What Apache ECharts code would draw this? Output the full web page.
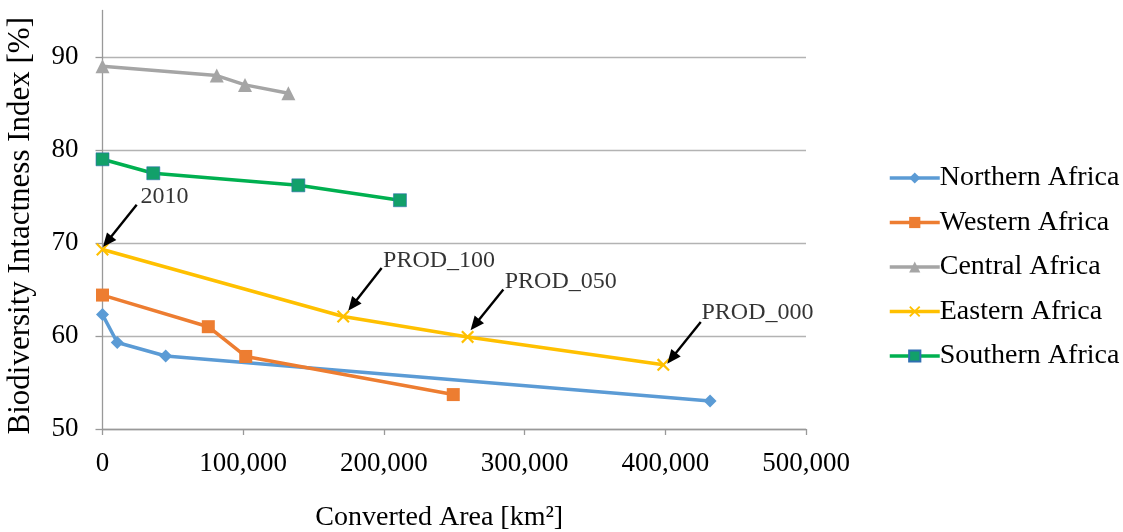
<!DOCTYPE html>
<html>
<head>
<meta charset="utf-8">
<script src="https://cdn.jsdelivr.net/npm/echarts@6/dist/echarts.min.js"></script>
<style>
html,body{margin:0;padding:0;background:#fff;}
#chart{width:1123px;height:532px;}
</style>
</head>
<body>
<div id="chart"></div>
<script>
// ---- data ----
const seriesNames = ['Northern Africa', 'Western Africa', 'Central Africa', 'Eastern Africa', 'Southern Africa'];
const northX = [0, 10500, 44900, 431800];
const northY = [62.3, 59.3, 57.85, 53.0];
const westX = [0, 75200, 101800, 249300];
const westY = [64.4, 61.0, 57.8, 53.7];
const centralX = [0, 81200, 101300, 132100];
const centralY = [89.0, 88.0, 87.0, 86.1];
const eastX = [0, 171100, 259500, 398600];
const eastY = [69.3, 62.1, 59.9, 56.9];
const southX = [0, 36100, 139200, 211400];
const southY = [79.0, 77.5, 76.2, 74.6];

const annoLabels = ['2010', 'PROD_100', 'PROD_050', 'PROD_000'];
const annoTextPos = [[27000, 75.0], [199400, 68.1], [285900, 65.8], [425700, 62.5]];
const annoTail = [[24300, 74.1], [198400, 67.3], [284900, 65.0], [425200, 61.5]];
const annoTip = [[3400, 70.15], [177700, 63.3], [264700, 61.2], [404500, 57.6]];

const xTicks = [0, 100000, 200000, 300000, 400000, 500000];
const yTicks = [50, 60, 70, 80, 90];

// ---- chart ----
const FONT = 'Liberation Serif';
const colors = ['#5B9BD5', '#ED7D31', '#A5A5A5', '#FFC000', '#00B050'];
const xSymbol = 'path://M0,1.2L1.2,0L5,3.8L8.8,0L10,1.2L6.2,5L10,8.8L8.8,10L5,6.2L1.2,10L0,8.8L3.8,5Z';

function zip(xs, ys) { return xs.map((x, i) => [x, ys[i]]); }

function lineSeries(idx, xs, ys, symbol, size, extra) {
  return Object.assign({
    name: seriesNames[idx],
    type: 'line',
    data: zip(xs, ys),
    symbol: symbol,
    symbolSize: size,
    showAllSymbol: true,
    lineStyle: { width: 3.5, color: colors[idx] },
    itemStyle: { color: colors[idx] },
    z: 3
  }, extra || {});
}

const chart = echarts.init(document.getElementById('chart'), null, { renderer: 'canvas' });
chart.setOption({
  animation: false,
  backgroundColor: '#fff',
  textStyle: { fontFamily: FONT },
  grid: { left: 102.5, right: 317, top: 10.5, bottom: 103, containLabel: false, outerBoundsMode: 'none' },
  xAxis: {
    type: 'value',
    min: xTicks[0],
    max: xTicks[xTicks.length - 1],
    interval: xTicks[1] - xTicks[0],
    name: 'Converted Area [km²]',
    nameLocation: 'middle',
    nameGap: 75,
    nameTextStyle: { fontFamily: FONT, fontSize: 28, color: '#000', padding: [0, 30, 0, 0] },
    axisLine: { show: true, lineStyle: { color: '#999', width: 1.3 } },
    axisTick: { show: true, length: 6, lineStyle: { color: '#999', width: 1.3 } },
    axisLabel: {
      margin: 21,
      fontFamily: FONT, fontSize: 27, color: '#000',
      formatter: v => v.toLocaleString('en-US')
    },
    splitLine: { show: false }
  },
  yAxis: {
    type: 'value',
    min: yTicks[0],
    max: 95,
    interval: yTicks[1] - yTicks[0],
    name: 'Biodiversity Intactness Index [%]',
    nameLocation: 'middle',
    nameGap: 66,
    nameRotate: 90,
    nameTextStyle: { fontFamily: FONT, fontSize: 31, color: '#000', padding: [0, 12, 0, 0] },
    axisLine: { show: true, lineStyle: { color: '#999', width: 1.3 } },
    axisTick: { show: true, length: 7, lineStyle: { color: '#999', width: 1.3 } },
    axisLabel: {
      margin: 24,
      fontFamily: FONT, fontSize: 27, color: '#000',
      showMaxLabel: false
    },
    splitLine: { show: true, showMaxLine: false, lineStyle: { color: '#b3b3b3', width: 1.3 } }
  },
  legend: {
    orient: 'vertical',
    left: 883,
    top: 158,
    itemWidth: 50,
    itemHeight: 14,
    itemGap: 14.5,
    data: seriesNames,
    lineStyle: { width: 3.5 },
    textStyle: { fontFamily: FONT, fontSize: 28, color: '#000', lineHeight: 30, padding: [0, 0, 0, -5] }
  },
  series: [
    lineSeries(0, northX, northY, 'diamond', 13),
    lineSeries(1, westX, westY, 'rect', 13),
    lineSeries(2, centralX, centralY, 'triangle', 14),
    lineSeries(3, eastX, eastY, xSymbol, 13),
    lineSeries(4, southX, southY, 'rect', 13, { itemStyle: { color: '#12a06a', borderColor: '#2f6fb0', borderWidth: 0.6 } }),
    {
      name: 'annotations',
      type: 'scatter',
      data: annoTextPos.map((p, i) => ({ value: p, name: annoLabels[i] })),
      symbolSize: 0,
      silent: true,
      label: {
        show: true,
        position: 'right',
        distance: 0,
        formatter: p => p.name,
        fontFamily: FONT, fontSize: 24, color: '#000'
      },
      markLine: {
        silent: true,
        symbol: ['none', 'triangle'],
        symbolSize: [12, 14],
        label: { show: false },
        lineStyle: { color: '#000', width: 2.4, type: 'solid' },
        data: annoTail.map((t, i) => [{ coord: t }, { coord: annoTip[i] }])
      },
      z: 5
    }
  ]
});
</script>
</body>
</html>
